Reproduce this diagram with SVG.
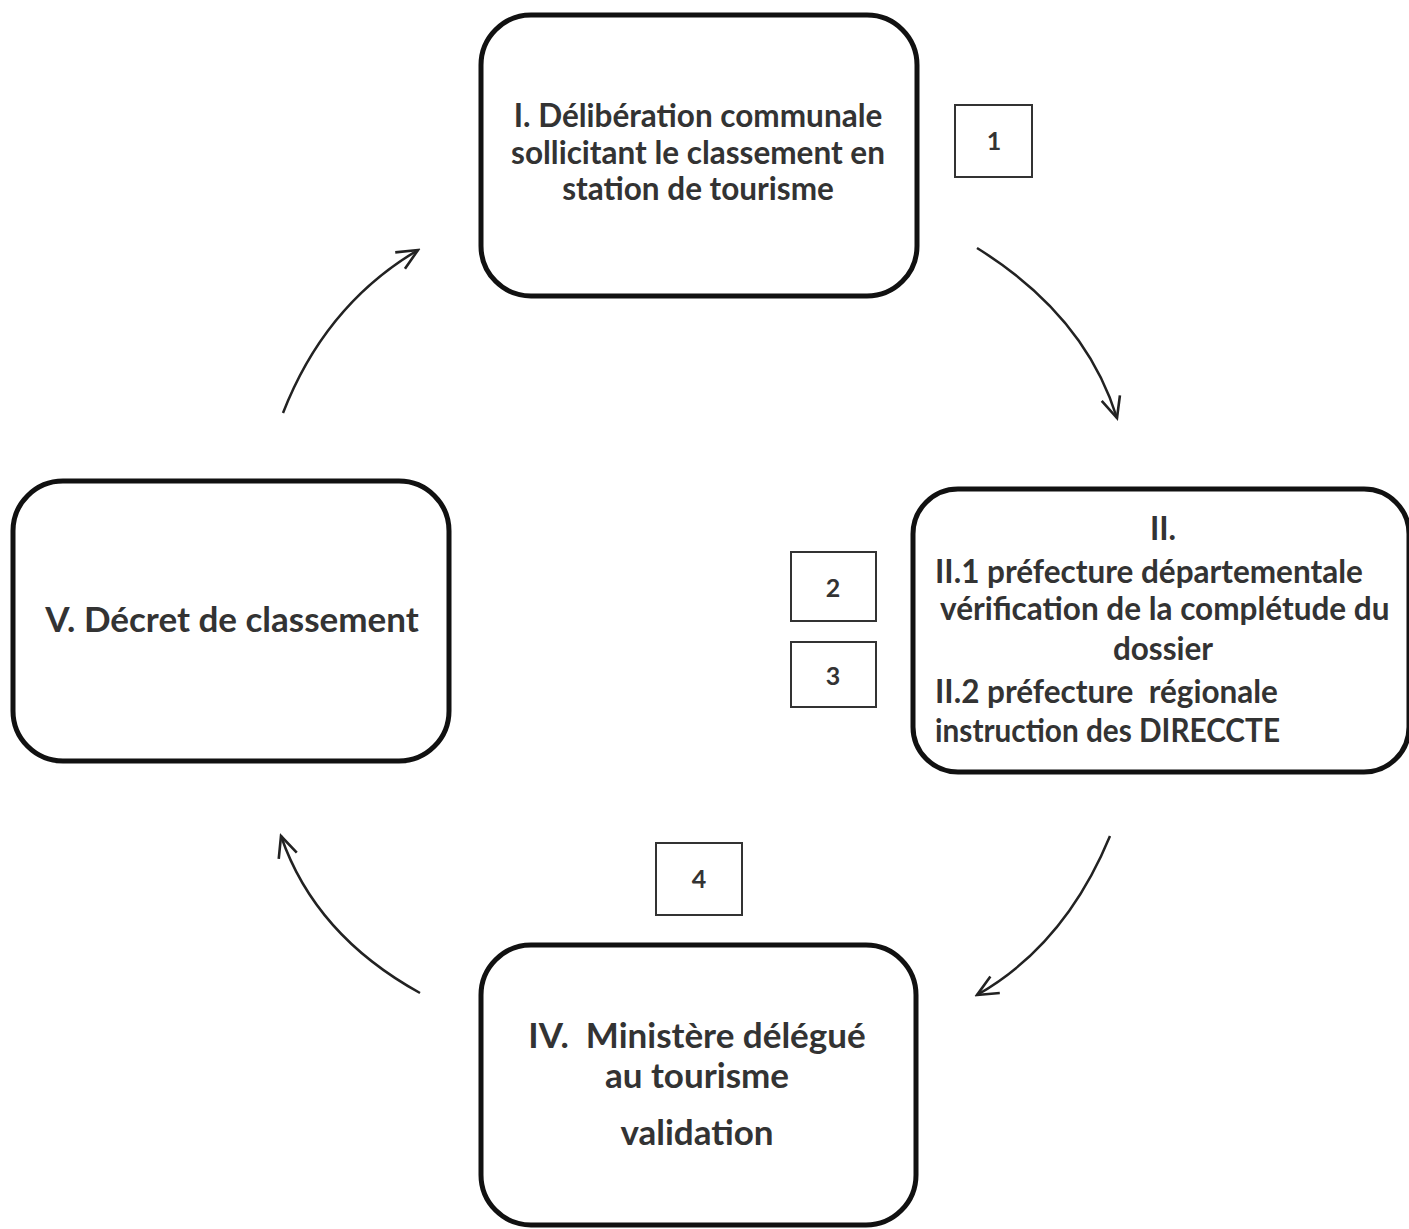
<svg xmlns="http://www.w3.org/2000/svg" width="1409" height="1229" viewBox="0 0 1409 1229">
<style>
.box{fill:#fff;stroke:#111;stroke-width:5}
.sm{fill:#fff;stroke:#333;stroke-width:2}
.t{font-family:Lato,"Liberation Sans",sans-serif;font-weight:bold;font-size:31.5px;fill:#333}
.b{font-size:35px}
.n{font-family:Lato,"Liberation Sans",sans-serif;font-weight:bold;font-size:25px;fill:#333}
.c{fill:none;stroke:#222;stroke-width:2.5}
</style>
<defs>
<marker id="ah" viewBox="0 0 30 30" refX="27" refY="15" markerWidth="26" markerHeight="26" markerUnits="userSpaceOnUse" orient="auto">
<path d="M3,4 L27,15 L3,26" fill="none" stroke="#222" stroke-width="3"/>
</marker>
</defs>
<rect width="1409" height="1229" fill="#fff"/>
<g id="connectors">
<path class="c" d="M977,248 Q1085,315 1117,418" marker-end="url(#ah)"/>
<path class="c" d="M1110,836 Q1065,945 977,995" marker-end="url(#ah)"/>
<path class="c" d="M420,993 Q315,935 281,836" marker-end="url(#ah)"/>
<path class="c" d="M283,413 Q325,305 418,250" marker-end="url(#ah)"/>
</g>
<g id="node-I">
<rect class="box" x="481" y="15" width="436" height="281" rx="50"/>
<text class="t" text-anchor="middle" x="698" y="127">I. Délibération communale</text>
<text class="t" text-anchor="middle" x="698" y="164">sollicitant le classement en</text>
<text class="t" text-anchor="middle" x="698" y="200">station de tourisme</text>
</g>
<g id="node-II">
<rect class="box" x="913" y="489" width="496" height="283" rx="45"/>
<text class="t" text-anchor="middle" x="1163" y="540">II.</text>
<text class="t" x="935" y="583">II.1 préfecture départementale</text>
<text class="t" x="940" y="620">vérification de la complétude du</text>
<text class="t" text-anchor="middle" x="1163" y="660">dossier</text>
<text class="t" x="935" y="703" xml:space="preserve">II.2 préfecture  régionale</text>
<text class="t" x="935" y="742" textLength="345" lengthAdjust="spacingAndGlyphs">instruction des DIRECCTE</text>
</g>
<g id="node-IV">
<rect class="box" x="481" y="945" width="435" height="280" rx="50"/>
<text class="t b" text-anchor="middle" x="697" y="1048" xml:space="preserve">IV.  Ministère délégué</text>
<text class="t b" text-anchor="middle" x="697" y="1088">au tourisme</text>
<text class="t b" text-anchor="middle" x="697" y="1145">validation</text>
</g>
<g id="node-V">
<rect class="box" x="13" y="481" width="436" height="280" rx="50"/>
<text class="t b" text-anchor="middle" x="232" y="632">V. Décret de classement</text>
</g>
<g id="label-1">
<rect class="sm" x="955" y="105" width="77" height="72"/>
<text class="n" text-anchor="middle" x="994" y="150">1</text>
</g>
<g id="label-2">
<rect class="sm" x="791" y="552" width="85" height="69"/>
<text class="n" text-anchor="middle" x="833" y="597">2</text>
</g>
<g id="label-3">
<rect class="sm" x="791" y="642" width="85" height="65"/>
<text class="n" text-anchor="middle" x="833" y="685">3</text>
</g>
<g id="label-4">
<rect class="sm" x="656" y="843" width="86" height="72"/>
<text class="n" text-anchor="middle" x="699" y="888">4</text>
</g>
</svg>
